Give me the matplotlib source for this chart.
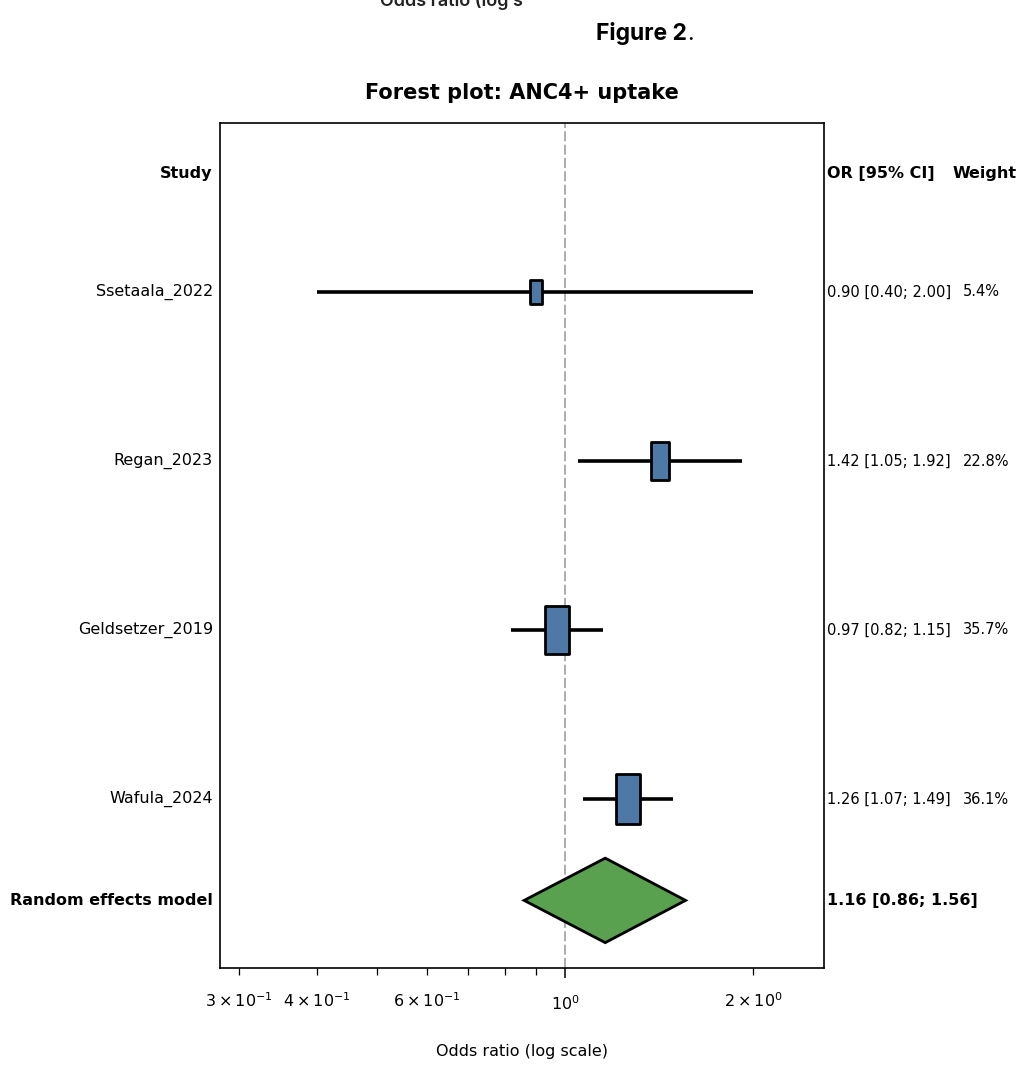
import numpy as np
import matplotlib
matplotlib.use('Agg')
import matplotlib.pyplot as plt
from matplotlib.path import Path
from matplotlib.patches import Polygon
from matplotlib.transforms import blended_transform_factory

# study level data
studies = ['Ssetaala_2022', 'Regan_2023', 'Geldsetzer_2019', 'Wafula_2024']
odds = [0.90, 1.42, 0.97, 1.26]
lower = [0.40, 1.05, 0.82, 1.07]
upper = [2.00, 1.92, 1.15, 1.49]
weights = [5.4, 22.8, 35.7, 36.1]

# pooled estimate
pooled_label = 'Random effects model'
pooled_or, pooled_lo, pooled_hi = 1.16, 0.86, 1.56

blue = '#4e79a7'
green = '#59a14f'

plt.rcParams['font.family'] = 'DejaVu Sans'

fig = plt.figure(figsize=(10.21, 10.73), dpi=100)
ax = fig.add_axes([220 / 1021, 1 - 968 / 1073, 604 / 1021, 845 / 1073])

ypos = np.arange(len(studies), 0, -1)
y_pool = 0.4
y_head = len(studies) + 0.7

# tall narrow box marker
box = Path([(-0.25, -0.5), (0.25, -0.5), (0.25, 0.5), (-0.25, 0.5), (-0.25, -0.5)],
           [Path.MOVETO, Path.LINETO, Path.LINETO, Path.LINETO, Path.CLOSEPOLY])

ax.axvline(1, color='#a0a0a0', lw=1.2, dashes=(6, 2), zorder=1)

for y, o, lo, hi, w in zip(ypos, odds, lower, upper, weights):
    ax.plot([lo, hi], [y, y], color='k', lw=2.6, solid_capstyle='butt', zorder=2)
    ax.plot([o], [y], marker=box, ms=13.4 + 0.61 * w, mfc=blue, mec='k', mew=2,
            ls='none', zorder=3)

diamond = Polygon([[pooled_lo, y_pool], [pooled_or, y_pool + 0.25],
                   [pooled_hi, y_pool], [pooled_or, y_pool - 0.25]],
                  closed=True, fc=green, ec='k', lw=2, zorder=3)
ax.add_patch(diamond)

ax.set_xscale('log')
ax.set_xlim(min(lower) * 0.7, max(upper) * 1.3)
ax.set_ylim(0, len(studies) + 1)
ax.set_yticks([])
for sp in ax.spines.values():
    sp.set_linewidth(1.2)
ax.tick_params(axis='x', which='major', length=7, width=1.1, pad=12, labelsize=11.5)
ax.tick_params(axis='x', which='minor', length=5, width=0.9, pad=12, labelsize=11.5)
ax.set_xlabel('Odds ratio (log scale)', fontsize=11.5)
ax.xaxis.set_label_coords(0.5, -0.09)

trans = blended_transform_factory(ax.transAxes, ax.transData)

# left column: study names
ax.text(-0.012, y_head, 'Study', transform=trans, ha='right', va='center',
        fontsize=11.5, fontweight='bold')
for y, name in zip(ypos, studies):
    ax.text(-0.012, y, name, transform=trans, ha='right', va='center', fontsize=11.5)
ax.text(-0.012, y_pool, pooled_label, transform=trans, ha='right', va='center',
        fontsize=11.5, fontweight='bold')

# right columns: OR [95% CI] and weight
ax.text(1.005, y_head, 'OR [95% CI]', transform=trans, ha='left', va='center',
        fontsize=11.5, fontweight='bold')
ax.text(1.2136, y_head, 'Weight', transform=trans, ha='left', va='center',
        fontsize=11.5, fontweight='bold')
for y, o, lo, hi, w in zip(ypos, odds, lower, upper, weights):
    ax.text(1.005, y, '%.2f [%.2f; %.2f]' % (o, lo, hi), transform=trans,
            ha='left', va='center', fontsize=10.5)
    ax.text(1.230, y, '%.1f%%' % w, transform=trans, ha='left', va='center',
            fontsize=10.5)
ax.text(1.005, y_pool, '%.2f [%.2f; %.2f]' % (pooled_or, pooled_lo, pooled_hi),
        transform=trans, ha='left', va='center', fontsize=11.5, fontweight='bold')

fig.text(522 / 1021, 1 - 93 / 1073, 'Forest plot: ANC4+ uptake', ha='center',
         va='center', fontsize=15, fontweight='bold')

# bits of the surrounding document (top line is cut off in the page)
fig.text(380 / 1021, 1 - 6 / 1073, 'Odds ratio (log s', ha='left', va='baseline',
         fontsize=13, fontweight='semibold', family=['Inter', 'DejaVu Sans'],
         color='#222222')
cap = fig.text(596 / 1021, 1 - 40 / 1073, 'Figure 2', ha='left', va='baseline',
               fontsize=16.5, fontweight='bold', family=['Inter', 'DejaVu Sans'])
plt.annotate('.', xy=(1, 0), xycoords=cap, ha='left', va='bottom',
             fontsize=16.5, family=['Inter', 'DejaVu Sans'])

fig.savefig('out.png', dpi=100)
